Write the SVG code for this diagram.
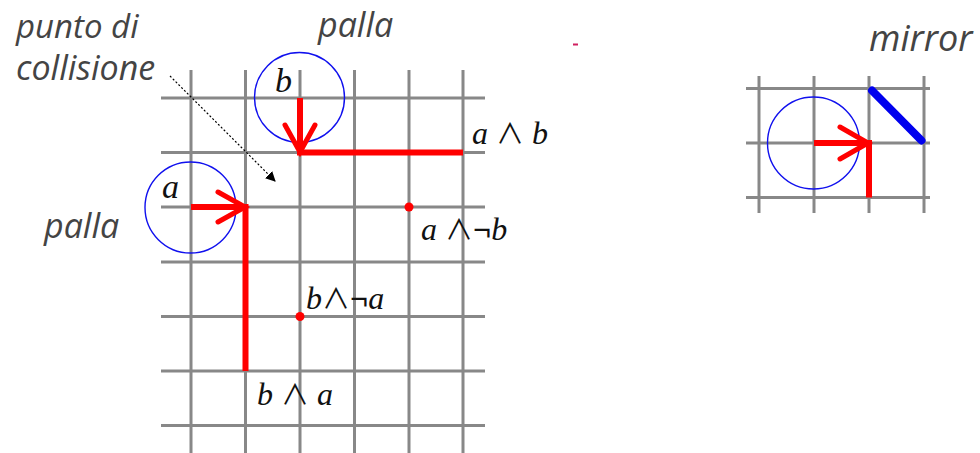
<svg xmlns="http://www.w3.org/2000/svg" width="980" height="453" viewBox="0 0 980 453">
<style>
.grid line{stroke:#888;stroke-width:3}
.ball{fill:none;stroke:#1010ee;stroke-width:1.4}
.path{fill:none;stroke:#ff0000;stroke-width:6;stroke-linecap:butt;stroke-linejoin:miter}
.barb{fill:none;stroke:#ff0000;stroke-width:5;stroke-linecap:round}
.lbl{font-family:"Open Sans","Liberation Sans",sans-serif;font-style:italic;fill:#444;font-size:34px}
.math{font-family:"Liberation Serif","DejaVu Serif",serif;font-size:32px;fill:#111}
.math .v{font-style:italic}
.math .op{font-family:"Noto Sans CJK JP","DejaVu Sans",sans-serif;font-size:28px}
.math .neg{font-weight:bold}
.big{font-family:"Liberation Serif","DejaVu Serif",serif;font-style:italic;font-size:34px;fill:#111}
</style>
<defs>
<marker id="tri" markerWidth="10" markerHeight="10" refX="9" refY="5" orient="auto" markerUnits="userSpaceOnUse" viewBox="0 0 10 10">
<path d="M0,0 L10,5 L0,10 z" fill="#000"/>
</marker>
</defs>
<rect width="980" height="453" fill="#fff"/>

<g id="grid-main" class="grid">
<line x1="161" y1="98" x2="485" y2="98"/>
<line x1="161" y1="152.5" x2="485" y2="152.5"/>
<line x1="161" y1="207" x2="485" y2="207"/>
<line x1="161" y1="262" x2="485" y2="262"/>
<line x1="161" y1="316.5" x2="485" y2="316.5"/>
<line x1="161" y1="371" x2="485" y2="371"/>
<line x1="161" y1="425.5" x2="485" y2="425.5"/>
<line x1="191" y1="70" x2="191" y2="453"/>
<line x1="245.5" y1="70" x2="245.5" y2="453"/>
<line x1="300" y1="70" x2="300" y2="453"/>
<line x1="354.5" y1="70" x2="354.5" y2="453"/>
<line x1="409" y1="70" x2="409" y2="453"/>
<line x1="463" y1="70" x2="463" y2="453"/>
</g>

<g id="grid-mirror" class="grid">
<line x1="746" y1="88.5" x2="930" y2="88.5"/>
<line x1="746" y1="143" x2="930" y2="143"/>
<line x1="746" y1="197.5" x2="930" y2="197.5"/>
<line x1="759" y1="76" x2="759" y2="213"/>
<line x1="814" y1="76" x2="814" y2="213"/>
<line x1="869" y1="76" x2="869" y2="213"/>
<line x1="924" y1="76" x2="924" y2="213"/>
</g>

<g id="ball-a">
<circle class="ball" cx="190.5" cy="207.5" r="45.5"/>
<text class="big" x="162" y="198">a</text>
</g>
<g id="ball-b">
<circle class="ball" cx="299.5" cy="97.5" r="45"/>
<text class="big" x="275" y="92">b</text>
</g>
<g id="ball-mirror">
<circle class="ball" cx="813.5" cy="143" r="46"/>
</g>
<g id="mirror">
<line x1="872" y1="90.5" x2="921.5" y2="140.5" stroke="#0000ee" stroke-width="8" stroke-linecap="round"/>
</g>

<g id="connectors">
<path class="path" d="M191,207 H245.5 V371"/>
<polyline class="barb" points="218,192 245,207 218,222"/>
<path class="path" d="M300,98 V152.5 H463"/>
<polyline class="barb" points="285,125 300,152 315,125"/>
<path class="path" d="M814,143 H869 V197.5"/>
<polyline class="barb" points="840,127 868,143 840,159"/>
<line x1="170" y1="76" x2="275" y2="181" stroke="#000" stroke-width="1.2" stroke-dasharray="2,2" marker-end="url(#tri)"/>
</g>

<g id="dot-anb">
<circle cx="409" cy="207" r="4.5" fill="#ff0000"/>
</g>
<g id="dot-bna">
<circle cx="300" cy="316.5" r="4.5" fill="#ff0000"/>
</g>

<g id="labels">
<text class="lbl" x="16" y="38" style="font-size:33px">punto di</text>
<text class="lbl" x="16" y="80">collisione</text>
<text class="lbl" x="318" y="37">palla</text>
<text class="lbl" x="44" y="238">palla</text>
<text class="lbl" x="869" y="51" style="font-size:36px">mirror</text>
<text class="math" x="472" y="144"><tspan class="v">a</tspan> <tspan class="op">∧</tspan> <tspan class="v">b</tspan></text>
<text class="math" x="421" y="240"><tspan class="v">a</tspan> <tspan class="op">∧</tspan><tspan class="neg">¬</tspan><tspan class="v">b</tspan></text>
<text class="math" x="306" y="309"><tspan class="v">b</tspan><tspan class="op">∧</tspan><tspan class="neg">¬</tspan><tspan class="v">a</tspan></text>
<text class="math" x="257" y="405"><tspan class="v">b</tspan> <tspan class="op">∧</tspan> <tspan class="v">a</tspan></text>
</g>
<rect x="573" y="43.5" width="5" height="2" fill="#d02060"/>
</svg>
